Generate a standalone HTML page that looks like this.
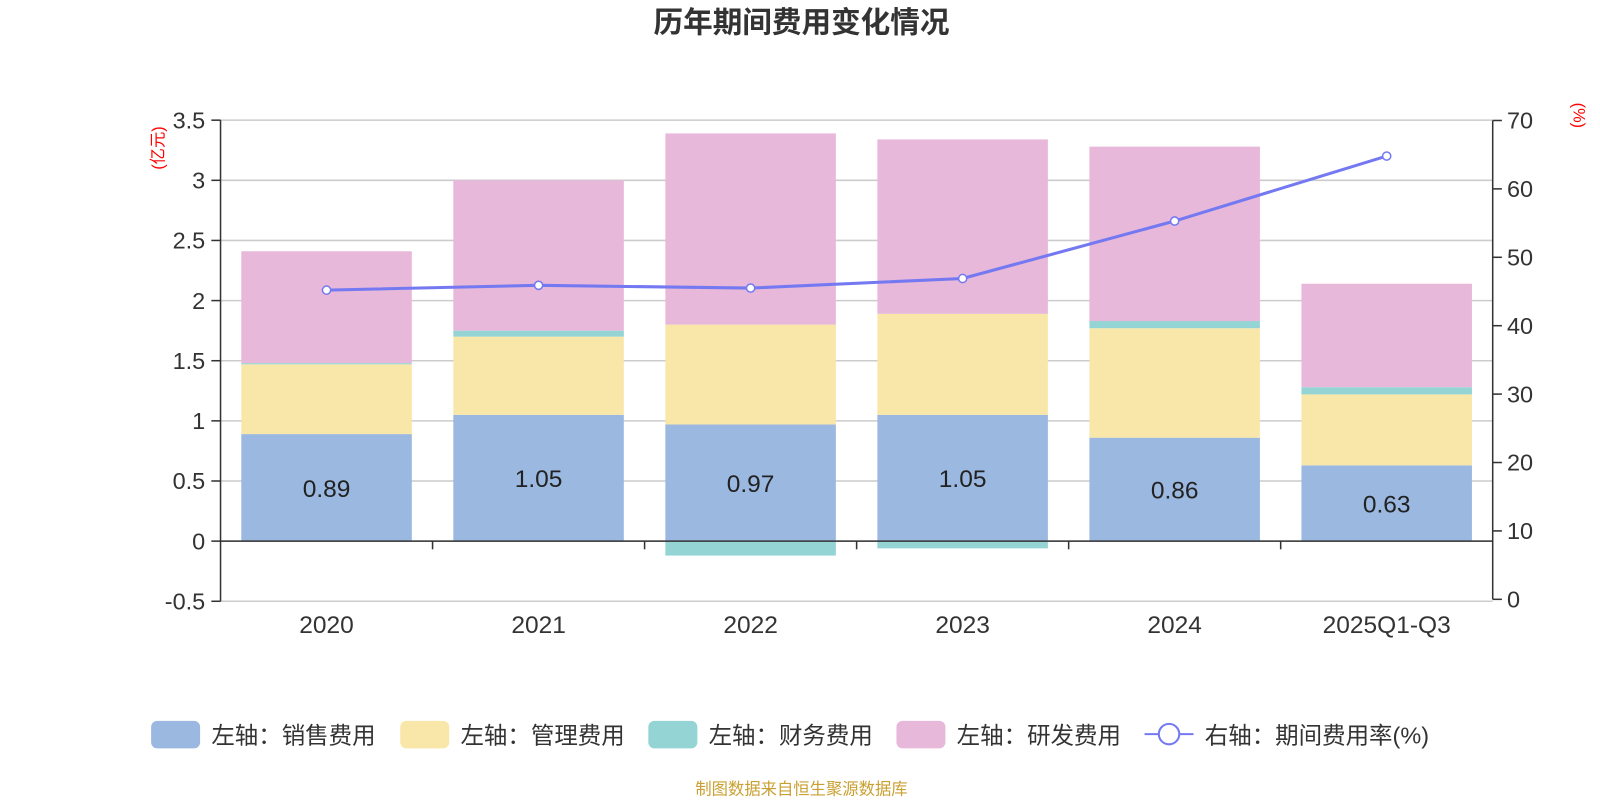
<!DOCTYPE html>
<html><head><meta charset="utf-8"><style>
body{margin:0;background:#fff;font-family:"Liberation Sans","Noto Sans CJK SC",sans-serif;}
svg text{font-family:"Liberation Sans","Noto Sans CJK SC",sans-serif;}
</style></head><body>
<svg id="c" width="1600" height="800" xmlns="http://www.w3.org/2000/svg">
<g transform="scale(1.021)">
<text x="785" y="32" font-size="29" font-weight="bold" fill="#333" text-anchor="middle">历年期间费用变化情况</text>
<text x="785" y="778" font-size="16" fill="#c9a032" text-anchor="middle">制图数据来自恒生聚源数据库</text>
<g id="plot"></g>
<g id="legend"></g>
</g>
</svg>
<script>
const categories=["2020","2021","2022","2023","2024","2025Q1-Q3"];
const sales=[0.89,1.05,0.97,1.05,0.86,0.63];
const mgmt=[0.58,0.65,0.83,0.84,0.91,0.59];
const fin=[0.01,0.05,-0.12,-0.06,0.06,0.06];
const rnd=[0.93,1.25,1.59,1.45,1.45,0.86];
const rate=[45.2,45.9,45.5,46.9,55.3,64.8];
const leftTicks=[-0.5,0,0.5,1,1.5,2,2.5,3,3.5];
const rightTicks=[0,10,20,30,40,50,60,70];
const NS="http://www.w3.org/2000/svg";
const X0=216,X1=1462;
const yL=v=>530-v*117.8;
const yR=v=>587-v*6.7;
const bw=(X1-X0)/categories.length;
const xc=i=>X0+bw*(i+0.5);
const g=document.getElementById('plot');
function mk(t,a,p){const e=document.createElementNS(NS,t);for(const k in a)e.setAttribute(k,a[k]);(p||g).appendChild(e);return e;}
leftTicks.forEach(v=>{
 const l=mk('line',{x1:X0,x2:X1,y1:yL(v),y2:yL(v),stroke:'#ccc','stroke-width':1.5});
 
 mk('line',{x1:X0-9,x2:X0,y1:yL(v),y2:yL(v),stroke:'#333','stroke-width':1.5});
 const t=mk('text',{x:X0-15,y:yL(v)+8,'font-size':23,fill:'#333','text-anchor':'end'});t.textContent=v;
 
});
rightTicks.forEach(v=>{
 mk('line',{x1:X1,x2:X1+9,y1:yR(v),y2:yR(v),stroke:'#333','stroke-width':1.5});
 const t=mk('text',{x:X1+14,y:yR(v)+8,'font-size':23,fill:'#333'});t.textContent=v;
 
});
mk('line',{x1:X0,x2:X0,y1:yL(3.5),y2:yL(-0.5),stroke:'#333','stroke-width':1.5});
mk('line',{x1:X1,x2:X1,y1:yR(70),y2:yR(0),stroke:'#333','stroke-width':1.5});
let u=mk('text',{x:0,y:0,'font-size':16,fill:'red','text-anchor':'middle',transform:'translate(160,145) rotate(-90)'});u.textContent='(亿元)';

u=mk('text',{x:0,y:0,'font-size':16,fill:'red','text-anchor':'middle',transform:'translate(1541,113) rotate(90)'});u.textContent='(%)';

const colors=['#9bb8e0','#f8e7a8','#94d4d4','#e7b8d9'];
const series=[sales,mgmt,fin,rnd];
categories.forEach((c,i)=>{
 let pos=0,neg=0;const x=xc(i)-83.5;
 series.forEach((s,k)=>{
  const v=s[i];let y0,y1;
  if(v>=0){y0=pos;y1=pos+v;pos=y1;}else{y0=neg;y1=neg+v;neg=y1;}
  const r=mk('rect',{x:x,width:167,y:Math.min(yL(y0),yL(y1)),height:Math.abs(yL(y1)-yL(y0)),fill:colors[k]});
  
 });
 const t=mk('text',{x:xc(i),y:yL(sales[i]/2)+9,'font-size':24,fill:'#222','text-anchor':'middle'});t.textContent=sales[i].toFixed(2);
 
 const cl=mk('text',{x:xc(i),y:620,'font-size':24,fill:'#333','text-anchor':'middle'});cl.textContent=c;
 
 if(i>0)mk('line',{x1:X0+bw*i,x2:X0+bw*i,y1:530,y2:538,stroke:'#333','stroke-width':1.5});
});
mk('line',{x1:X0,x2:X1,y1:530,y2:530,stroke:'#333','stroke-width':1.5});
const pl=mk('polyline',{points:rate.map((v,i)=>xc(i)+','+yR(v)).join(' '),fill:'none',stroke:'#7479f2','stroke-width':3});

rate.forEach((v,i)=>{const p=mk('circle',{cx:xc(i),cy:yR(v),r:4,fill:'#fff',stroke:'#7479f2','stroke-width':1.5});
 });
const lg=document.getElementById('legend');
const names=['左轴：销售费用','左轴：管理费用','左轴：财务费用','左轴：研发费用'];
const lx=[148,392,635,878];
names.forEach((n,k)=>{
 const r=mk('rect',{x:lx[k],y:706,width:48,height:27,rx:6,fill:colors[k]},lg);
 
 const t=mk('text',{x:lx[k]+59,y:728,'font-size':23,fill:'#333'},lg);t.textContent=n;
 
});
mk('line',{x1:1121,x2:1169,y1:719,y2:719,stroke:'#7479f2','stroke-width':2},lg);
mk('circle',{cx:1145,cy:719,r:10,fill:'#fff',stroke:'#7479f2','stroke-width':2},lg);
const t=mk('text',{x:1180,y:728,'font-size':23,fill:'#333'},lg);t.textContent='右轴：期间费用率(%)';

</script>
</body></html>
